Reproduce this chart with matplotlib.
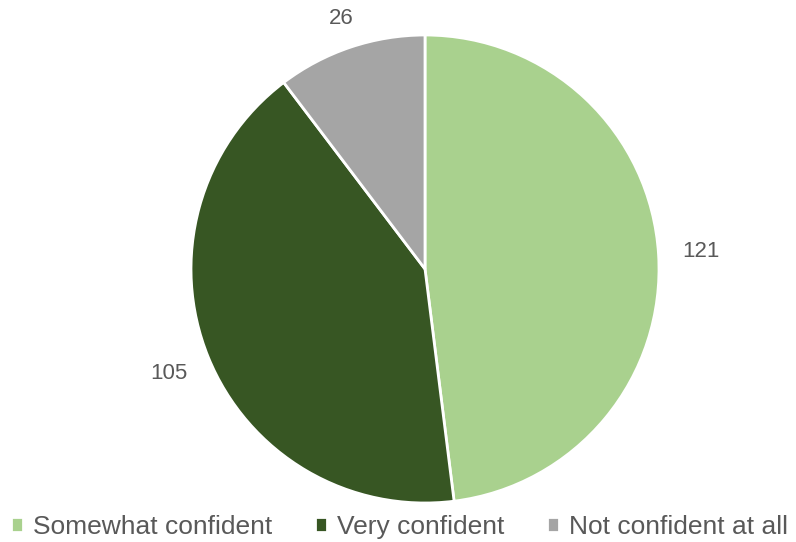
import matplotlib.pyplot as plt
import numpy as np

categories = ["Somewhat confident", "Very confident", "Not confident at all"]
counts = [121, 105, 26]
colors = ["#A9D18E", "#375623", "#A5A5A5"]
label_dist = [1.18, 1.18, 1.13]

plt.rcParams["font.family"] = ["Liberation Sans", "DejaVu Sans"]
TEXT = "#595959"

fig = plt.figure(figsize=(7.96, 5.42), dpi=100)
W, H = 796, 542
cx, cy, r = 425, 269, 234
ax = fig.add_axes([(cx - r) / W, (H - cy - r) / H, 2 * r / W, 2 * r / H])

wedges, _ = ax.pie(
    counts,
    colors=colors,
    startangle=90,
    counterclock=False,
    wedgeprops=dict(edgecolor="white", linewidth=2),
)

# value labels just outside each slice
for w, c, d in zip(wedges, counts, label_dist):
    mid = np.deg2rad((w.theta1 + w.theta2) / 2)
    ax.text(d * np.cos(mid), d * np.sin(mid), str(c),
            ha="center", va="center", color=TEXT, fontsize=16)

ax.set_xlim(-1, 1)
ax.set_ylim(-1, 1)
ax.set_aspect("equal")

fig.legend(
    wedges,
    categories,
    loc="center",
    bbox_to_anchor=(0.502, 0.028),
    ncol=3,
    frameon=False,
    fontsize=19,
    labelcolor=TEXT,
    handlelength=0.45,
    handleheight=0.45,
    handletextpad=0.4,
    columnspacing=1.6,
    borderpad=0,
)

fig.savefig("out.png", dpi=100)
